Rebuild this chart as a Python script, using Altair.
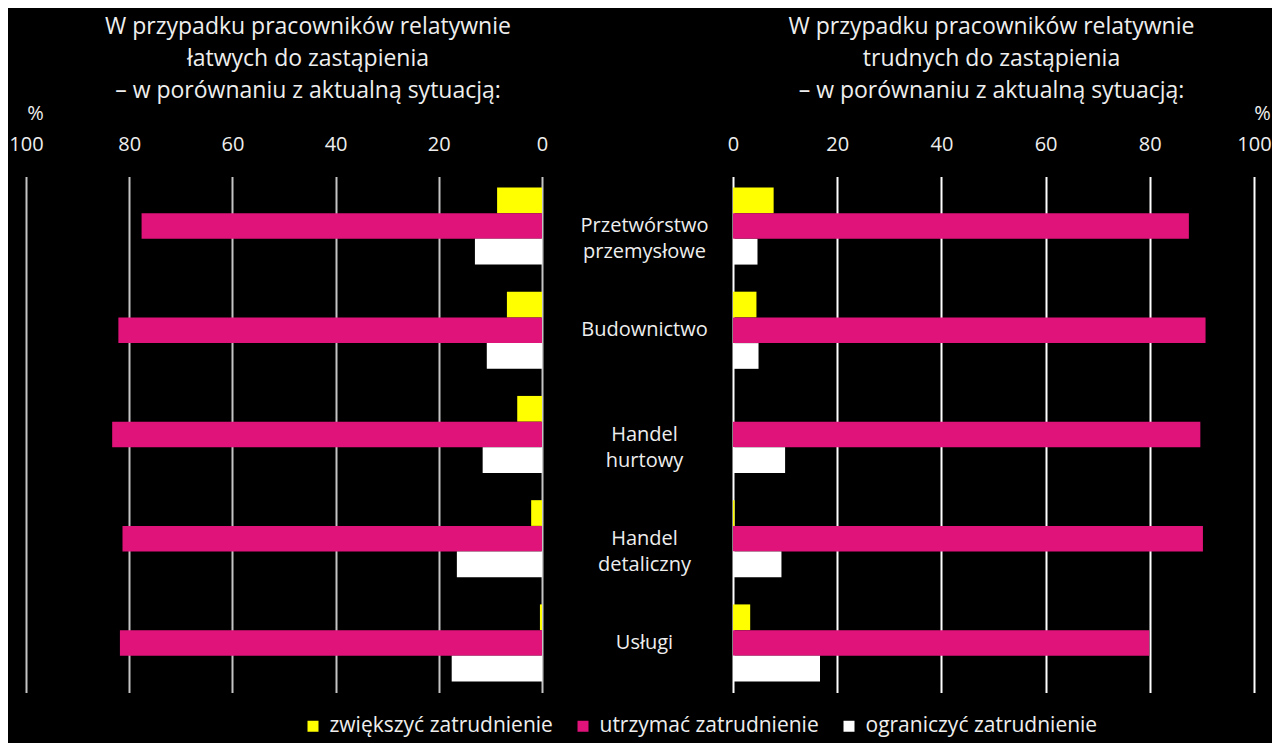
import altair as alt
import pandas as pd

categories = ["Przetwórstwo|przemysłowe", "Budownictwo", "Handel|hurtowy", "Handel|detaliczny", "Usługi"]
series = ["zwiększyć zatrudnienie", "utrzymać zatrudnienie", "ograniczyć zatrudnienie"]
colors = ["#FFFF00", "#DF137A", "#FFFFFF"]

left_increase = [8.7, 6.8, 4.8, 2.1, 0.4]
left_keep = [77.6, 82.1, 83.3, 81.3, 81.8]
left_reduce = [13.0, 10.7, 11.5, 16.5, 17.5]

right_increase = [7.8, 4.5, 0.0, 0.3, 3.3]
right_keep = [87.5, 90.7, 89.7, 90.2, 79.9]
right_reduce = [4.7, 4.9, 10.0, 9.3, 16.7]

ticks = [0, 20, 40, 60, 80, 100]

left_title = ["W przypadku pracowników relatywnie", "łatwych do zastąpienia", "– w porównaniu z aktualną sytuacją:"]
right_title = ["W przypadku pracowników relatywnie", "trudnych do zastąpienia", "– w porównaniu z aktualną sytuacją:"]


def build(vals):
    rows = []
    for s, v in zip(series, vals):
        for c, x in zip(categories, v):
            rows.append({"category": c, "series": s, "value": x})
    return pd.DataFrame(rows)


left_df = build([left_increase, left_keep, left_reduce])
right_df = build([right_increase, right_keep, right_reduce])

FONT = "Open Sans"
TXT = "#eeeeee"

LW, RW, GAP = 516, 521, 191

yscale = alt.Scale(paddingInner=0.26, paddingOuter=0.105)
color = alt.Color(
    "series:N",
    sort=series,
    scale=alt.Scale(domain=series, range=colors),
    legend=alt.Legend(
        title=None,
        orient="none",
        direction="horizontal",
        legendX=276.5,
        legendY=539,
        symbolType="square",
        symbolSize=121,
        symbolStrokeWidth=0,
        labelFontSize=21,
        labelColor=TXT,
        labelFont=FONT,
        labelOffset=6,
        columnPadding=19,
        labelLimit=400,
    ),
)


def xaxis(grid_color, title_x):
    return alt.Axis(
        orient="top",
        values=ticks,
        grid=True,
        gridColor=grid_color,
        gridWidth=2,
        domain=False,
        ticks=False,
        labelFlush=False,
        labelFontSize=20,
        labelColor=TXT,
        labelFont=FONT,
        labelPadding=22,
        title="%",
        titleX=title_x,
        titleY=-63.5,
        titleAlign="center",
        titleBaseline="middle",
        titleAngle=0,
        titleFontSize=20,
        titleFontWeight="normal",
        titleColor=TXT,
        titleFont=FONT,
    )


def title(text, dx):
    return alt.TitleParams(
        text=text, color=TXT, font=FONT, fontSize=23, fontWeight="normal",
        lineHeight=32, anchor="middle", dx=dx, offset=0.5,
    )


left = (
    alt.Chart(left_df)
    .mark_bar()
    .encode(
        x=alt.X("value:Q", scale=alt.Scale(domain=[0, 100], reverse=True), axis=xaxis("#c4c4c4", 9)),
        y=alt.Y("category:N", sort=categories, scale=yscale, axis=None),
        yOffset=alt.YOffset("series:N", sort=series),
        color=color,
    )
    .properties(width=LW, height=516, title=title(left_title, 24))
)

right = (
    alt.Chart(right_df)
    .mark_bar()
    .encode(
        x=alt.X("value:Q", scale=alt.Scale(domain=[0, 100]), axis=xaxis("#ffffff", RW + 8)),
        y=alt.Y(
            "category:N",
            sort=categories,
            scale=yscale,
            axis=alt.Axis(
                title=None,
                domain=False,
                ticks=False,
                labelAlign="center",
                labelBaseline="middle",
                labelPadding=89,
                labelFontSize=20,
                labelColor=TXT,
                labelFont=FONT,
                labelLineHeight=26,
                labelExpr="split(datum.label, '|')",
            ),
        ),
        yOffset=alt.YOffset("series:N", sort=series),
        color=color,
    )
    .properties(width=RW, height=516, title=title(right_title, -2))
)

chart = (
    alt.hconcat(left, right, spacing=GAP, bounds="flush")
    .resolve_scale(y="shared")
    .configure(background="#000000", padding={"left": 0, "right": 0, "top": 7.5, "bottom": 6})
    .configure_view(stroke=None)
)

chart.save("out.html", embed_options={"renderer": "svg", "actions": False})
